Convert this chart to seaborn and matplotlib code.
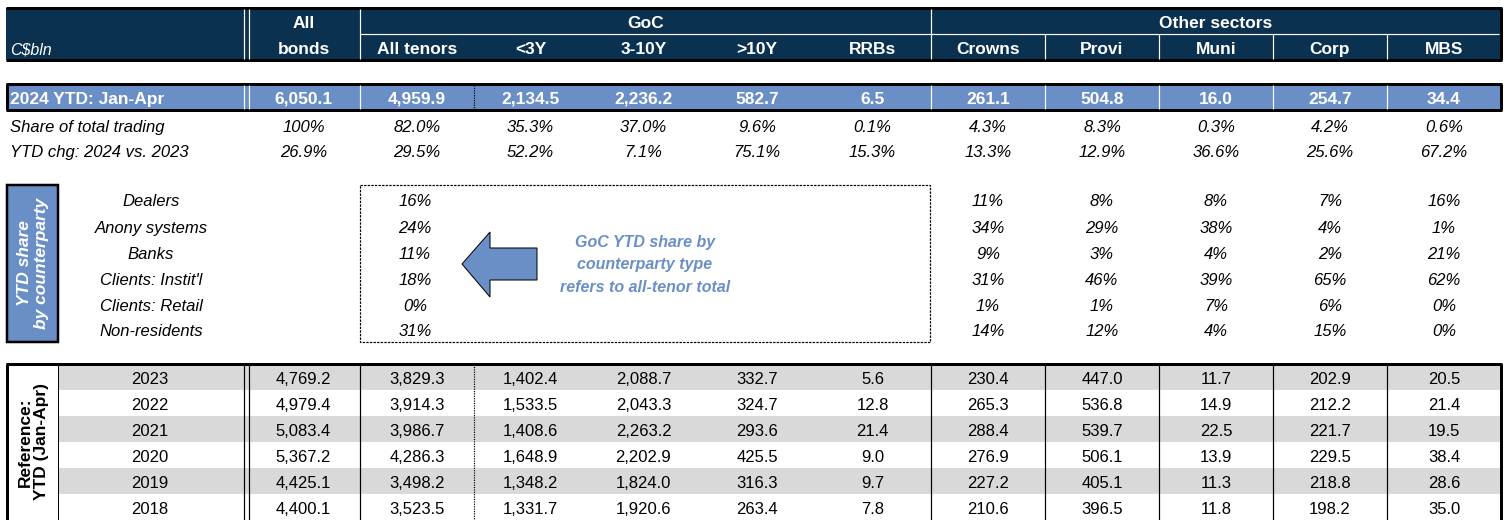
import numpy as np
import pandas as pd
import seaborn as sns
import matplotlib.pyplot as plt
from matplotlib.patches import Rectangle, Polygon

sns.set_theme(style="white")
plt.rcParams['font.family'] = ['Liberation Sans', 'DejaVu Sans']

# ---- data ----
col_names = ["All bonds", "All tenors", "<3Y", "3-10Y", ">10Y", "RRBs",
             "Crowns", "Provi", "Muni", "Corp", "MBS"]
ytd_2024 = [6050.1, 4959.9, 2134.5, 2236.2, 582.7, 6.5, 261.1, 504.8, 16.0, 254.7, 34.4]
share_total = [100, 82.0, 35.3, 37.0, 9.6, 0.1, 4.3, 8.3, 0.3, 4.2, 0.6]
ytd_chg = [26.9, 29.5, 52.2, 7.1, 75.1, 15.3, 13.3, 12.9, 36.6, 25.6, 67.2]

counterparties = ["Dealers", "Anony systems", "Banks", "Clients: Instit'l",
                  "Clients: Retail", "Non-residents"]
goc_cp = [16, 24, 11, 18, 0, 31]
crowns_cp = [11, 34, 9, 31, 1, 14]
provi_cp = [8, 29, 3, 46, 1, 12]
muni_cp = [8, 38, 4, 39, 7, 4]
corp_cp = [7, 4, 2, 65, 6, 15]
mbs_cp = [16, 1, 21, 62, 0, 0]

ref_years = [2023, 2022, 2021, 2020, 2019, 2018]
all_bonds = [4769.2, 4979.4, 5083.4, 5367.2, 4425.1, 4400.1]
all_tenors = [3829.3, 3914.3, 3986.7, 4286.3, 3498.2, 3523.5]
lt3y = [1402.4, 1533.5, 1408.6, 1648.9, 1348.2, 1331.7]
y3_10 = [2088.7, 2043.3, 2263.2, 2202.9, 1824.0, 1920.6]
gt10y = [332.7, 324.7, 293.6, 425.5, 316.3, 263.4]
rrbs = [5.6, 12.8, 21.4, 9.0, 9.7, 7.8]
crowns = [230.4, 265.3, 288.4, 276.9, 227.2, 210.6]
provi = [447.0, 536.8, 539.7, 506.1, 405.1, 396.5]
muni = [11.7, 14.9, 22.5, 13.9, 11.3, 11.8]
corp = [202.9, 212.2, 221.7, 229.5, 218.8, 198.2]
mbs = [20.5, 21.4, 19.5, 38.4, 28.6, 35.0]

ref = pd.DataFrame({"All bonds": all_bonds, "All tenors": all_tenors, "<3Y": lt3y,
                    "3-10Y": y3_10, ">10Y": gt10y, "RRBs": rrbs, "Crowns": crowns,
                    "Provi": provi, "Muni": muni, "Corp": corp, "MBS": mbs},
                   index=ref_years)
other_cp = pd.DataFrame({"Crowns": crowns_cp, "Provi": provi_cp, "Muni": muni_cp,
                         "Corp": corp_cp, "MBS": mbs_cp}, index=counterparties)

# ---- layout (pixels) ----
edges = [247, 360, 474, 587, 700, 814, 931, 1045, 1159, 1273, 1387, 1501]
centers = [(a + b) / 2 for a, b in zip(edges[:-1], edges[1:])]
navy = "#0B3150"
lblue = "#6A8FC7"
grey = "#D9D9D9"
px = 0.72  # points per pixel at dpi 100
fs = 12

fig = plt.figure(figsize=(15.1, 5.2), dpi=100)
ax = fig.add_axes([0, 0, 1, 1])
ax.set_xlim(0, 1510)
ax.set_ylim(520, 0)
ax.axis("off")


def vline(x, y0, y1, color="black", lw=1, ls="-"):
    ax.plot([x, x], [y0, y1], color=color, lw=lw * px, ls=ls, solid_capstyle="butt")


def hline(y, x0, x1, color="black", lw=1, ls="-"):
    ax.plot([x0, x1], [y, y], color=color, lw=lw * px, ls=ls, solid_capstyle="butt")


# header
ax.add_patch(Rectangle((6, 8), 1495, 52, facecolor=navy, edgecolor="none"))
hline(8, 6, 1502, lw=3)
hline(60, 6, 1502, lw=3)
vline(1501, 8, 60, lw=3)
for x in [244, 249, 360, 931]:
    vline(x, 9, 59, color="white", lw=1.2)
hline(34, 360, 1499, color="white", lw=1.2)
for x in edges[7:-1]:
    vline(x, 34, 59, color="white", lw=1.2)
hfont = dict(color="white", fontsize=12.5, fontweight="bold", ha="center", va="center_baseline")
ax.text(10, 48, "C$bln", color="white", fontsize=11.5, style="italic", va="center_baseline")
ax.text(centers[0], 22, "All", **hfont)
ax.text(centers[0], 48, "bonds", **hfont)
ax.text((360 + 931) / 2, 22, "GoC", **hfont)
ax.text((931 + 1501) / 2, 22, "Other sectors", **hfont)
for c, name in zip(centers[1:], col_names[1:]):
    ax.text(c, 48, name, **hfont)

# 2024 YTD row
ax.add_patch(Rectangle((6, 84), 1495, 26, facecolor=lblue, edgecolor="none"))
hline(84, 6, 1502, lw=3)
hline(110, 6, 1502, lw=3)
vline(7, 84, 110, lw=3)
vline(1501, 84, 110, lw=3)
for x in [244, 249, 360, 931] + edges[7:-1]:
    vline(x, 85, 109, color="white", lw=1.2)
vline(474, 85, 109, lw=1.2, ls=(0, (1, 1)))
ax.text(10, 98, "2024 YTD: Jan-Apr", color="white", fontsize=12.5, fontweight="bold",
        va="center_baseline")
for c, v in zip(centers, ytd_2024):
    ax.text(c, 98, f"{v:,.1f}", **hfont)

# share & change rows
ifont = dict(fontsize=fs, style="italic", color="black", va="center_baseline")
ax.text(10, 126, "Share of total trading", **ifont)
ax.text(10, 151, "YTD chg: 2024 vs. 2023", **ifont)
for i, (c, s, g) in enumerate(zip(centers, share_total, ytd_chg)):
    ax.text(c, 126, "100%" if i == 0 else f"{s:.1f}%", ha="center", **ifont)
    ax.text(c, 151, f"{g:.1f}%", ha="center", **ifont)

# counterparty block
ax.add_patch(Rectangle((7, 185), 51, 157, facecolor=lblue, edgecolor="black", lw=2.5 * px))
ax.text(33, 263, "YTD share\nby counterparty", rotation=90, color="white", fontsize=12.5,
        fontweight="bold", style="italic", ha="center", va="center", linespacing=1.1)
ax.add_patch(Rectangle((360, 185), 570, 157, facecolor="none", edgecolor="black",
                       lw=1.2 * px, ls=(0, (2, 1))))
cp_y = [200, 227, 253, 279, 305, 330]
for y, name, g in zip(cp_y, counterparties, goc_cp):
    ax.text(151, y, name, ha="center", **ifont)
    ax.text(415, y, f"{g}%", ha="center", **ifont)
for j, col in enumerate(other_cp.columns):
    for y, v in zip(cp_y, other_cp[col]):
        ax.text(centers[6 + j], y, f"{v}%", ha="center", **ifont)

arrow = Polygon([(462, 264), (490, 232), (490, 248), (537, 248), (537, 280),
                 (490, 280), (490, 297)], closed=True, facecolor=lblue,
                edgecolor="black", lw=1 * px)
ax.add_patch(arrow)
ax.text(645, 265, "GoC YTD share by\ncounterparty type\nrefers to all-tenor total",
        color=lblue, fontsize=11.5, fontweight="bold", style="italic", ha="center",
        va="center", linespacing=1.6)

# reference block
row_h = 26
top = 364
for i, yr in enumerate(ref.index):
    y0 = top + i * row_h
    if i % 2 == 0:
        ax.add_patch(Rectangle((58, y0), 1443, row_h, facecolor=grey, edgecolor="none"))
    yc = y0 + row_h / 2 + 1
    ax.text(150, yc, str(yr), fontsize=fs, ha="center", va="center_baseline", color="black")
    for c, col in zip(centers, ref.columns):
        ax.text(c, yc, f"{ref.loc[yr, col]:,.1f}", fontsize=fs, ha="center",
                va="center_baseline", color="black")
hline(top, 6, 1502, lw=3)
vline(7, top, 520, lw=3)
vline(1501, top, 520, lw=3)
vline(58, top, 520, lw=1)
vline(244, top, 520, lw=1.2)
vline(249, top, 520, lw=1.2)
for x in [360, 931] + edges[7:-1]:
    vline(x, top, 520, lw=1.2)
vline(474, top, 520, lw=1.2, ls=(0, (1, 1)))
ax.text(33, 442, "Reference:\nYTD (Jan-Apr)", rotation=90, fontsize=12.5, fontweight="bold",
        ha="center", va="center", color="black", linespacing=1.1)

fig.savefig("out.png", dpi=100)
